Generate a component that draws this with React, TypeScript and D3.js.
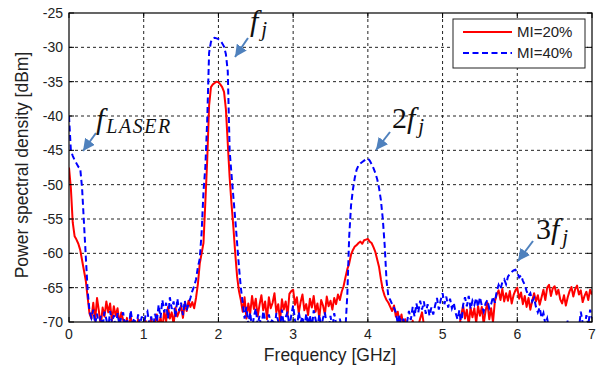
import React from "react";
import * as d3 from "d3";

// ---- data ----
const xTicks = [0, 1, 2, 3, 4, 5, 6, 7];
const yTicks = [-25, -30, -35, -40, -45, -50, -55, -60, -65, -70];
const freqStepGHz = 0.025; // sample spacing of both traces, starting at 0 GHz
const seriesNames = ["MI=20%", "MI=40%"];

// MI = 20 % (red, solid)
const redDbm = [
  -47.5, -50.5, -55.5, -57.5, -58.0, -58.6, -59.5, -61.0, -62.5, -64.0, -66.5, -68.8, -69.5, -67.2, -69.8, -66.5, -68.4, -70.6, -67.9, -69.2,
  -67.0, -68.6, -67.3, -69.8, -67.7, -69.1, -68.0, -70.3, -68.6, -69.7, -70.8, -69.4, -71, -69.2, -71, -70.4, -71, -69.6, -71, -70.6,
  -71, -69.8, -71, -70.5, -69.4, -71, -70.2, -68.9, -70.8, -69.3, -71, -68.4, -69.9, -67.8, -69.5, -68.6, -70.3, -67.9, -69.2, -68.5,
  -67.6, -69.4, -67.2, -68.4, -66.9, -67.8, -67.1, -68.0, -66.5, -64.5, -61.5, -60.0, -58.5, -52.5, -46.4, -38.5, -35.8, -35.4, -35.2, -35.0,
  -35.1, -35.4, -35.8, -36.5, -39.0, -44.0, -48.9, -52.8, -56.2, -60.0, -63.4, -65.5, -66.8, -68.5, -66.4, -69.5, -67.3, -68.8, -66.2, -68.1,
  -66.6, -69.2, -67.5, -66.1, -68.3, -67.0, -69.6, -66.4, -68.0, -67.2, -65.8, -68.6, -67.4, -69.8, -66.7, -68.2, -67.0, -69.1, -65.9, -65.5,
  -65.3, -67.5, -66.4, -68.7, -67.1, -66.0, -68.3, -67.4, -69.0, -66.6, -67.9, -66.2, -68.5, -67.3, -69.4, -66.8, -67.6, -68.9, -66.3, -67.7,
  -66.9, -68.2, -66.5, -67.4, -66.0, -66.8, -65.6, -64.8, -63.5, -62.3, -61.5, -60.2, -59.5, -59.0, -58.8, -58.5, -58.3, -58.6, -58.1, -58.0,
  -57.9, -58.3, -58.5, -59.1, -59.8, -60.9, -62.0, -63.8, -65.3, -66.2, -66.8, -67.2, -67.8, -68.4, -67.6, -69.2, -68.5, -70.2, -68.9, -70.5,
  -69.6, -71, -70.2, -71, -69.8, -71, -71, -70.6, -69.5, -68.6, -70.4, -71, -71, -71, -70.7, -71, -71, -71, -71, -71,
  -71, -71, -71, -70.8, -71, -71, -71, -71, -71, -70.5, -69.0, -67.6, -69.5, -68.2, -70.4, -67.9, -69.3, -68.0, -70.1, -67.7,
  -69.1, -67.8, -70.3, -68.4, -67.2, -69.6, -68.0, -70.0, -67.0, -66.0, -65.4, -66.8, -65.2, -67.0, -65.8, -66.9, -65.5, -67.3, -66.1, -65.4,
  -65.0, -66.6, -65.7, -67.4, -66.2, -67.8, -66.5, -68.2, -66.9, -65.8, -67.0, -66.1, -67.5, -66.4, -65.3, -66.8, -65.0, -64.6, -66.2, -65.1,
  -64.8, -66.0, -65.3, -66.7, -67.3, -66.1, -67.6, -66.4, -65.5, -64.9, -66.3, -65.2, -64.7, -66.0, -65.4, -67.1, -66.2, -65.6, -66.8, -65.3,
  -66.0,
];

// MI = 40 % (blue, dashed)
const blueDbm = [
  -40.0, -45.0, -45.8, -46.4, -46.9, -47.4, -47.6, -50.5, -55.5, -60.5, -65.5, -68.5, -69.4, -68.2, -70.3, -68.8, -70.6, -69.1, -70.8, -68.5,
  -69.6, -71, -68.4, -70.2, -69.0, -71, -68.7, -70.5, -69.3, -68.6, -70.8, -69.5, -71, -68.3, -70.1, -69.4, -71, -68.9, -70.4, -69.2,
  -70.6, -69.0, -68.5, -70.3, -69.2, -71, -68.8, -69.9, -67.5, -69.4, -66.8, -68.6, -67.2, -69.5, -66.4, -68.1, -67.0, -69.3, -66.6, -68.4,
  -67.2, -69.0, -66.9, -68.3, -67.4, -66.5, -65.5, -64.8, -63.8, -62.0, -60.8, -57.0, -51.0, -47.4, -40.6, -30.8, -29.2, -28.7, -28.6, -28.7,
  -28.8, -29.0, -29.4, -29.9, -31.0, -33.5, -45.0, -48.5, -51.8, -55.0, -58.5, -62.0, -65.0, -67.2, -69.5, -67.8, -70.4, -68.6, -71, -69.2,
  -68.0, -70.5, -69.1, -71, -68.4, -69.8, -71, -68.9, -70.2, -69.5, -71, -68.7, -69.9, -71, -68.2, -70.6, -69.3, -68.5, -70.8, -69.0,
  -67.6, -69.7, -71, -68.5, -70.1, -69.2, -71, -68.8, -70.4, -69.0, -71, -68.3, -69.6, -70.9, -68.9, -71, -69.4, -68.6, -70.5, -71,
  -69.1, -71, -68.7, -70.3, -71, -69.5, -71, -70.2, -71, -66.0, -57.6, -53.0, -50.7, -49.0, -47.8, -47.2, -46.9, -46.7, -46.5, -46.3,
  -46.2, -46.5, -47.0, -47.6, -48.3, -49.2, -50.5, -52.3, -55.0, -58.8, -64.0, -66.3, -66.8, -67.4, -67.9, -68.6, -70.2, -69.0, -71, -69.5,
  -71, -70.0, -68.4, -69.7, -67.8, -69.2, -67.3, -68.6, -66.9, -68.2, -67.0, -68.8, -67.4, -69.1, -67.9, -68.9, -67.6, -66.5, -68.2, -66.8,
  -65.8, -67.4, -66.3, -67.9, -66.6, -68.0, -67.2, -68.7, -69.6, -68.3, -70.5, -67.5, -66.4, -67.7, -66.2, -68.1, -66.9, -67.5, -66.5, -67.8,
  -66.4, -67.6, -68.5, -67.3, -66.8, -68.0, -67.4, -66.3, -67.2, -65.5, -64.6, -65.2, -64.2, -63.8, -64.5, -63.4, -63.0, -62.7, -62.5, -62.4,
  -62.8, -63.5, -63.2, -64.0, -64.6, -65.5, -66.2, -65.8, -67.0, -66.5, -67.8, -68.6, -67.9, -69.4, -68.7, -70.3, -69.5, -71, -70.2, -71,
  -71, -70.4, -71, -71, -70.6, -71, -71, -69.8, -71, -71, -70.8, -71, -70.3, -71, -68.5, -70.1, -71, -69.0, -70.6, -68.2,
  -69.5,
];

const RED = "#ff0000";
const BLUE = "#0000ff";
const ARROW = "#4f81bd";
const SANS = "'Liberation Sans', Arial, sans-serif";
const SERIF = "'Liberation Serif', 'Times New Roman', serif";

export default function App() {
  const left = 69, right = 592, top = 13, bottom = 322;
  const x = d3.scaleLinear().domain([0, 7]).range([left, right]);
  const y = d3.scaleLinear().domain([-70, -25]).range([bottom, top]);

  const toPts = (vals: number[]) => vals.map((v, i) => [i * freqStepGHz, v] as [number, number]);
  const line = d3
    .line<[number, number]>()
    .x((d) => x(d[0]))
    .y((d) => y(d[1]));

  const redPath = line(toPts(redDbm)) || "";
  const bluePath = line(toPts(blueDbm)) || "";

  const arrows: [number, number, number, number][] = [
    [96, 133, 83, 151],
    [248, 38, 235, 57],
    [390, 132, 376, 150],
    [533, 241, 518, 261],
  ];

  return (
    <svg
      width={600}
      height={372}
      viewBox="0 0 600 372"
      style={{ position: "absolute", left: 0, top: 0, background: "#fff" }}
    >
      <defs>
        <clipPath id="plotClip">
          <rect x={left} y={top} width={right - left} height={bottom - top} />
        </clipPath>
        <marker
          id="arrowHead"
          markerUnits="userSpaceOnUse"
          markerWidth={12}
          markerHeight={12}
          refX={10}
          refY={5}
          viewBox="0 0 10 10"
          orient="auto"
        >
          <path d="M0,0 L10,5 L0,10 z" fill={ARROW} />
        </marker>
      </defs>
      <rect x={0} y={0} width={600} height={372} fill="#fff" />

      {/* grid */}
      <g stroke="#222" strokeWidth={1} strokeDasharray="3,3">
        {xTicks.slice(1, -1).map((t) => (
          <line key={"gx" + t} x1={x(t)} x2={x(t)} y1={top} y2={bottom} />
        ))}
        {yTicks.slice(1, -1).map((t) => (
          <line key={"gy" + t} x1={left} x2={right} y1={y(t)} y2={y(t)} />
        ))}
      </g>

      {/* traces */}
      <g clipPath="url(#plotClip)" fill="none">
        <path d={redPath} stroke={RED} strokeWidth={2} strokeLinejoin="round" />
        <path d={bluePath} stroke={BLUE} strokeWidth={2} strokeDasharray="6,3.5" />
      </g>

      {/* frame + ticks */}
      <rect x={left} y={top} width={right - left} height={bottom - top} fill="none" stroke="#000" strokeWidth={1.2} />
      <g stroke="#000" strokeWidth={1}>
        {xTicks.map((t) => (
          <g key={"tx" + t}>
            <line x1={x(t)} x2={x(t)} y1={bottom} y2={bottom - 5} />
            <line x1={x(t)} x2={x(t)} y1={top} y2={top + 5} />
          </g>
        ))}
        {yTicks.map((t) => (
          <g key={"ty" + t}>
            <line x1={left} x2={left + 5} y1={y(t)} y2={y(t)} />
            <line x1={right} x2={right - 5} y1={y(t)} y2={y(t)} />
          </g>
        ))}
      </g>

      {/* tick labels */}
      <g fontFamily={SANS} fontSize={14} fill="#222">
        {xTicks.map((t) => (
          <text key={"lx" + t} x={x(t)} y={339} textAnchor="middle">
            {t}
          </text>
        ))}
        {yTicks.map((t) => (
          <text key={"ly" + t} x={63} y={y(t) + 5} textAnchor="end">
            {t}
          </text>
        ))}
      </g>

      {/* axis labels */}
      <text x={330} y={361} textAnchor="middle" fontFamily={SANS} fontSize={17.5} fill="#222">
        Frequency [GHz]
      </text>
      <text
        transform="translate(28,165) rotate(-90)"
        textAnchor="middle"
        fontFamily={SANS}
        fontSize={17.5}
        fill="#222"
      >
        Power spectral density [dBm]
      </text>

      {/* legend */}
      <rect x={453} y={19} width={132} height={49} fill="#fff" stroke="#222" strokeWidth={1} />
      <line x1={463} x2={512} y1={32} y2={32} stroke={RED} strokeWidth={2} />
      <line x1={463} x2={512} y1={53} y2={53} stroke={BLUE} strokeWidth={2} strokeDasharray="6,3.5" />
      <g fontFamily={SANS} fontSize={15} fill="#222">
        <text x={517} y={37}>{seriesNames[0]}</text>
        <text x={517} y={58}>{seriesNames[1]}</text>
      </g>

      {/* annotations */}
      <g stroke={ARROW} strokeWidth={2}>
        {arrows.map((a, i) => (
          <line key={"ar" + i} x1={a[0]} y1={a[1]} x2={a[2]} y2={a[3]} markerEnd="url(#arrowHead)" />
        ))}
      </g>
      <g fontFamily={SERIF} fontStyle="italic" fill="#111" fontSize={30}>
        <text x={96} y={129}>
          f<tspan fontSize={20} dx={2} dy={4} letterSpacing={1.5}>LASER</tspan>
        </text>
        <text x={250} y={31}>
          f<tspan fontSize={21} dx={3} dy={5}>j</tspan>
        </text>
        <text x={392} y={128}>
          <tspan fontStyle="normal">2</tspan>f<tspan fontSize={21} dx={3} dy={5}>j</tspan>
        </text>
        <text x={536} y={239}>
          <tspan fontStyle="normal">3</tspan>f<tspan fontSize={21} dx={3} dy={5}>j</tspan>
        </text>
      </g>
    </svg>
  );
}
